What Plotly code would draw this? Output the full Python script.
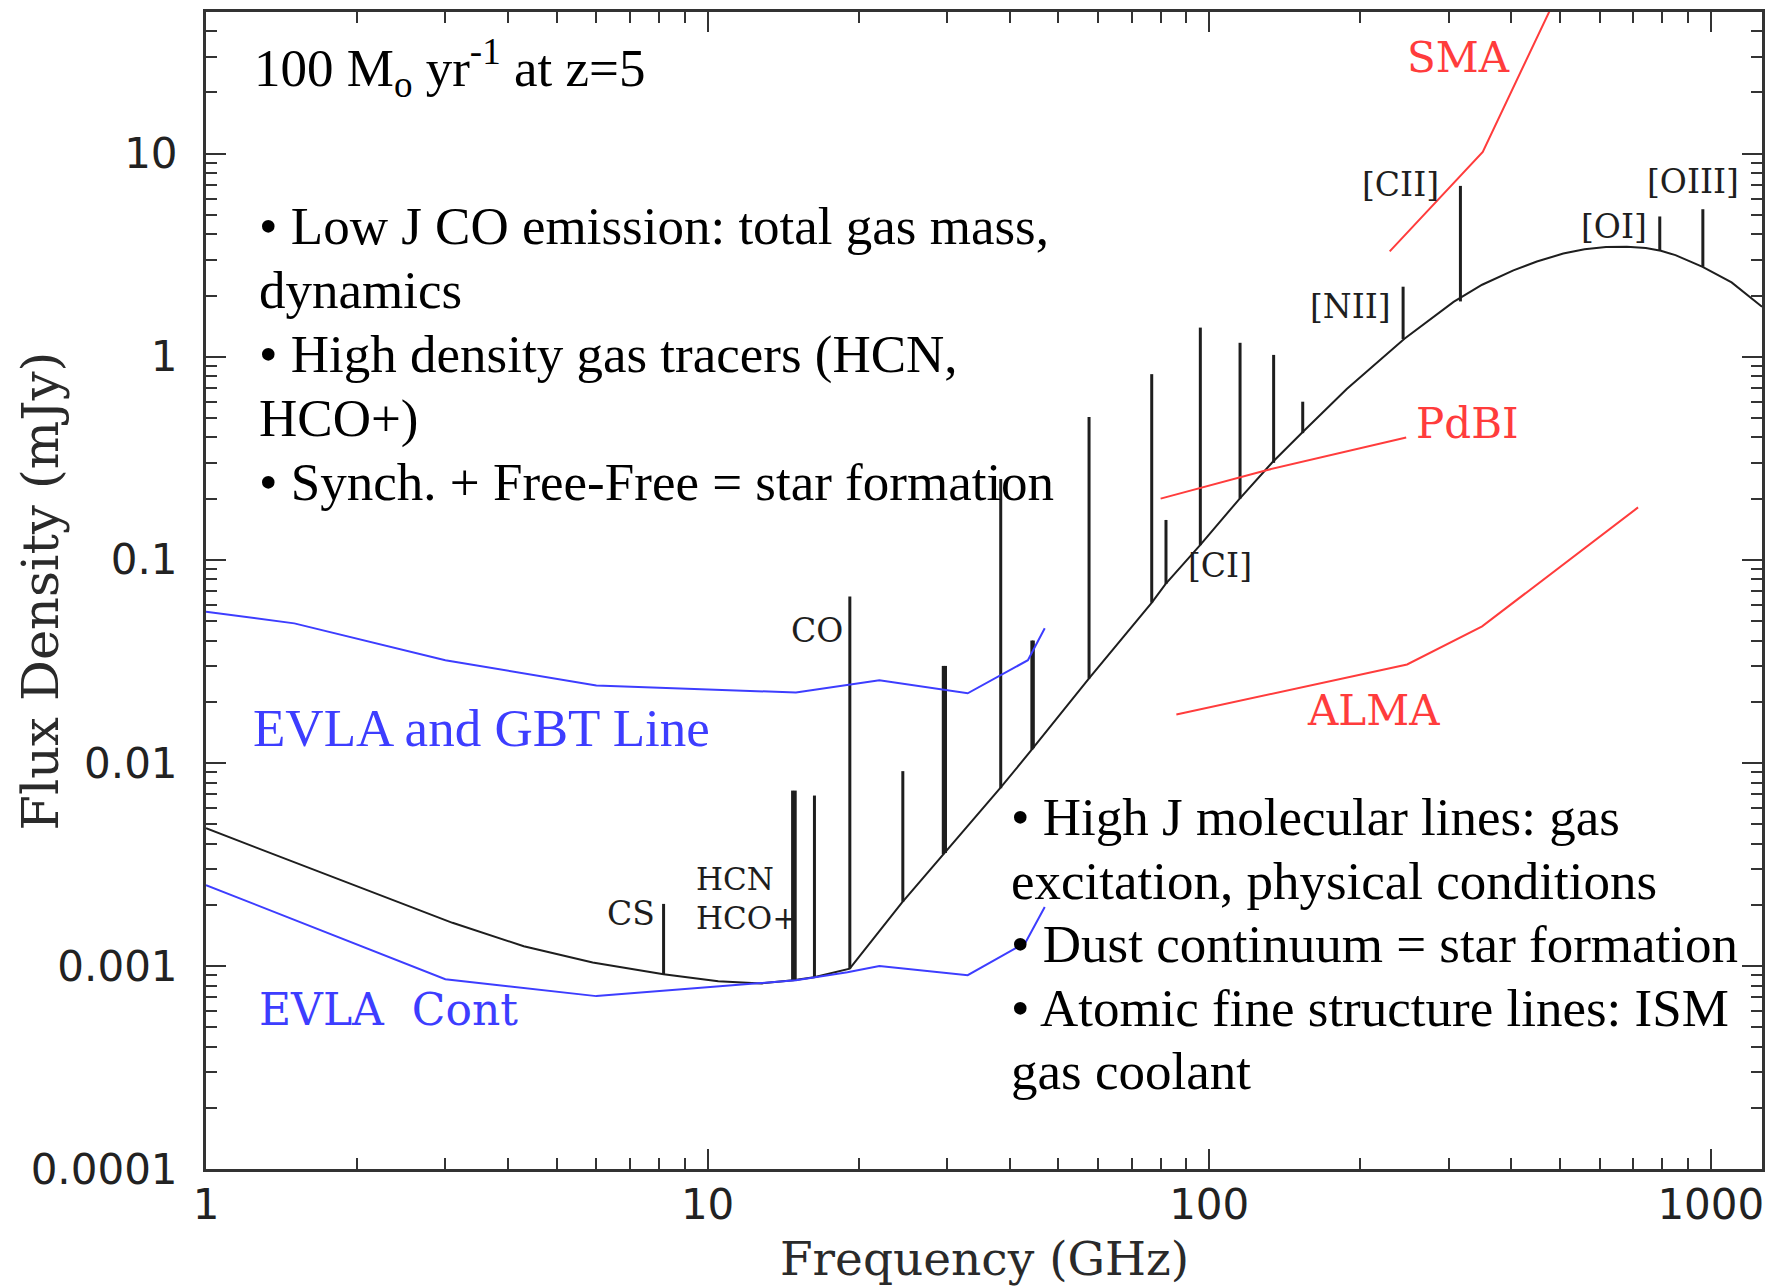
import plotly.graph_objects as go
import numpy as np

# ---- model continuum of a 100 Msun/yr starburst at z=5 (GHz, mJy) ----
cont_freq = [1.0, 1.9, 3.1, 4.3, 5.9, 8.17, 10.5, 12.8, 14.8, 16.3, 19.2,
             24.4, 29.5, 38.3, 44.4, 57.7, 76.9, 81.8, 95.9, 114.8, 133.5,
             152.9, 188.0, 245.0, 307.0, 350.0, 404.0, 450.0, 508.0, 560.0,
             618.0, 680.0, 742.0, 795.0, 850.0, 963.0, 1100.0, 1265.0]
cont_flux = [0.00476, 0.0026, 0.00163, 0.00125, 0.00104, 0.00091, 0.00084,
             0.00082, 0.00085, 0.00088, 0.00097, 0.00205, 0.00354, 0.0075,
             0.0117, 0.0262, 0.0617, 0.0759, 0.118, 0.199, 0.301, 0.421,
             0.693, 1.226, 1.86, 2.26, 2.66, 2.94, 3.22, 3.38, 3.47, 3.48,
             3.43, 3.32, 3.16, 2.77, 2.32, 1.76]

# ---- redshifted emission lines: frequency, continuum level, peak ----
line_freq = [8.17, 14.77, 14.95, 16.33, 19.21, 24.5, 29.5, 29.8, 38.4,
             44.3, 44.6, 57.6, 76.8, 82.0, 96.0, 115.2, 134.4, 153.6,
             243.5, 316.8, 791.0, 964.0]
line_base = [0.00091, 0.00085, 0.00085, 0.00088, 0.00097, 0.00207, 0.00355,
             0.0036, 0.0075, 0.0116, 0.0118, 0.026, 0.0615, 0.076, 0.118,
             0.20, 0.30, 0.42, 1.22, 1.87, 3.32, 2.77]
line_peak = [0.00202, 0.0073, 0.0073, 0.0069, 0.066, 0.0091, 0.030, 0.030,
             0.25, 0.040, 0.040, 0.505, 0.82, 0.157, 1.39, 1.17, 1.02, 0.60,
             2.21, 6.93, 4.90, 5.32]

# ---- instrument sensitivities (mJy) ----
evla_line_freq = [1.0, 1.5, 3.0, 6.0, 15.0, 22.0, 33.0, 43.5, 47.0]
evla_line_flux = [0.0555, 0.0486, 0.032, 0.024, 0.0222, 0.0255, 0.022, 0.032, 0.046]

evla_cont_freq = [1.0, 3.0, 6.0, 15.0, 19.0, 22.0, 33.0, 43.0, 47.0]
evla_cont_flux = [0.0025, 0.00086, 0.00071, 0.00085, 0.00093, 0.001, 0.0009, 0.0013, 0.00195]

pdbi_freq = [80.0, 130.0, 247.0]
pdbi_flux = [0.20, 0.276, 0.40]

alma_freq = [86.0, 248.0, 350.0, 716.0]
alma_flux = [0.0173, 0.0305, 0.047, 0.181]

sma_freq = [229.0, 351.0, 480.0]
sma_flux = [3.3, 10.2, 52.0]

# ---- axis ticks ----
x_tickvals = [1, 10, 100, 1000]
x_ticktext = ["1", "10", "100", "1000"]
y_tickvals = [0.0001, 0.001, 0.01, 0.1, 1, 10]
y_ticktext = ["0.0001", "0.001", "0.01", "0.1", "1", "10"]

BLUE = "#3d3dff"
RED = "#ff3c3c"
INK = "#1e1e1e"
FRAME = "#333333"

W, H = 1779, 1287
ML, MR, MT, MB = 206, 17, 9, 118

fig = go.Figure()

# emission lines as vertical segments from the continuum to the line peak
seg_x, seg_y = [], []
for f, b, p in zip(line_freq, line_base, line_peak):
    seg_x += [f, f, None]
    seg_y += [b, p, None]
fig.add_trace(go.Scatter(x=seg_x, y=seg_y, mode="lines",
                         line=dict(color=INK, width=3), hoverinfo="skip"))

fig.add_trace(go.Scatter(x=cont_freq, y=cont_flux, mode="lines",
                         line=dict(color=INK, width=2)))
fig.add_trace(go.Scatter(x=evla_line_freq, y=evla_line_flux, mode="lines",
                         line=dict(color=BLUE, width=2)))
fig.add_trace(go.Scatter(x=evla_cont_freq, y=evla_cont_flux, mode="lines",
                         line=dict(color=BLUE, width=2)))
for fx, fy in [(pdbi_freq, pdbi_flux), (alma_freq, alma_flux), (sma_freq, sma_flux)]:
    fig.add_trace(go.Scatter(x=fx, y=fy, mode="lines",
                             line=dict(color=RED, width=2)))

plot_w = W - ML - MR
plot_h = H - MT - MB


def px(x):
    return (x - ML) / plot_w


def py(y):
    return (H - MB - y) / plot_h


annotations = []


def label(text, x, y, size, color=INK, family="DejaVu Serif", xanchor="center",
          yanchor="middle", angle=0):
    annotations.append(dict(text=text, x=px(x), y=py(y), xref="paper", yref="paper",
                            xanchor=xanchor, yanchor=yanchor, showarrow=False,
                            textangle=angle,
                            font=dict(family=family, size=size, color=color)))


SERIF = "Liberation Serif"
left_lines = ["• Low J CO emission: total gas mass,", "dynamics",
              "• High density gas tracers (HCN,", "HCO+)",
              "• Synch. + Free-Free = star formation"]
right_lines = ["• High J molecular lines: gas", "excitation, physical conditions",
               "• Dust continuum = star formation",
               "• Atomic fine structure lines: ISM", "gas coolant"]

label("100 M<sub>o</sub> yr<sup>-1</sup> at z=5", 252, 65, 53, "black", SERIF, "left")
for i, t in enumerate(left_lines):
    label(t, 257, 224 + i * 64.1, 53, "black", SERIF, "left")
for i, t in enumerate(right_lines):
    label(t, 1009, 816 + i * 63.8, 53, "black", SERIF, "left")

label("EVLA and GBT Line", 251, 727, 53, BLUE, SERIF, "left")
label("EVLA\u00a0\u00a0Cont", 257, 1009, 44, BLUE, "DejaVu Serif", "left")

label("CS", 631, 913, 33)
label("HCN", 694, 878, 31, xanchor="left")
label("HCO+", 694, 917, 31, xanchor="left")
label("CO", 817, 629, 33)
label("[CI]", 1220, 564, 33)
label("[NII]", 1350, 304, 33)
label("[CII]", 1400, 182, 33)
label("[OI]", 1614, 224, 33)
label("[OIII]", 1693, 179, 33)

label("SMA", 1458, 55, 42, RED)
label("PdBI", 1467, 422, 42, RED)
label("ALMA", 1373, 709, 42, RED)

label("Frequency (GHz)", 984, 1259, 47, "#2a2a2a")
label("Flux Density (mJy)", 40, 590, 51, "#2a2a2a", angle=-90)

axis_common = dict(
    type="log",
    showline=True, linecolor=FRAME, linewidth=3, mirror="allticks",
    ticks="inside", ticklen=20, tickwidth=2, tickcolor=FRAME,
    showgrid=False, zeroline=False,
    tickfont=dict(family="DejaVu Sans", size=42, color="#222222"),
    tickmode="array",
)

x_minor = [m * 10 ** e for e in range(0, 4) for m in range(2, 10)]
y_minor = [m * 10 ** e for e in range(-4, 2) for m in range(2, 10)]

fig.update_xaxes(**axis_common, range=[0, 3.102], tickvals=x_tickvals,
                 ticktext=x_ticktext, ticklabelstandoff=-3,
                 minor=dict(ticks="inside", ticklen=11, tickwidth=2,
                            tickcolor=FRAME, tickvals=x_minor, showgrid=False))
fig.update_yaxes(**axis_common, range=[-4, 1.697], tickvals=y_tickvals,
                 ticktext=y_ticktext, ticklabelstandoff=17,
                 minor=dict(ticks="inside", ticklen=11, tickwidth=2,
                            tickcolor=FRAME, tickvals=y_minor, showgrid=False))

fig.update_layout(
    width=W, height=H,
    margin=dict(l=ML, r=MR, t=MT, b=MB),
    paper_bgcolor="white", plot_bgcolor="white",
    showlegend=False,
    annotations=annotations,
)

fig.write_html("out.html", config={"displayModeBar": False})
